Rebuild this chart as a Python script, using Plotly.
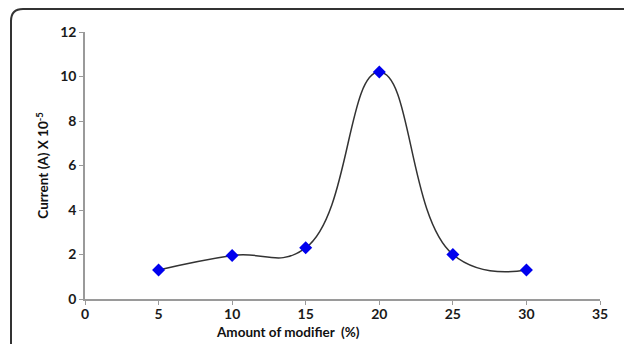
import plotly.graph_objects as go

modifier_pct = [5, 10, 15, 20, 25, 30]
current = [1.3, 1.95, 2.3, 10.2, 2.0, 1.3]
x_ticks = [0, 5, 10, 15, 20, 25, 30, 35]
y_ticks = [0, 2, 4, 6, 8, 10, 12]

W, H = 624, 344
L, R, T, B = 85, 24, 32, 45
pw, ph = W - L - R, H - T - B

def px(x):
    return (x - L) / pw

def py(y):
    return (H - B - y) / ph

fig = go.Figure()
fig.add_trace(go.Scatter(
    x=modifier_pct, y=current, mode="lines+markers",
    line=dict(color="#333333", width=1.5, shape="spline", smoothing=1.3),
    marker=dict(symbol="diamond", size=10, color="#0000ee"),
    showlegend=False,
))

path = (f"M {px(11)},{py(360)} L {px(11)},{py(21)} "
        f"Q {px(11)},{py(9)} {px(23)},{py(9)} L {px(640)},{py(9)}")
fig.add_shape(type="path", path=path, xref="paper", yref="paper",
              line=dict(color="#333333", width=2))

tfont = dict(family="Lato, Open Sans, sans-serif", size=14, color="#1a1a1a", weight=700)
lfont = dict(family="Lato, Open Sans, sans-serif", size=13.5, color="#111111", weight=700)
axcommon = dict(showgrid=False, zeroline=False, showline=True, linecolor="#9a9a9a",
                linewidth=1.5, ticks="outside", tickcolor="#9a9a9a", ticklen=4,
                tickfont=tfont, automargin=False)
fig.update_xaxes(range=[0, 35], tickvals=x_ticks, ticklabelstandoff=-3, **axcommon)
fig.update_yaxes(range=[0, 12], tickvals=y_ticks, **axcommon,
                 title=dict(text="Current (A) X 10<sup>-5</sup>", font=lfont, standoff=8))
fig.add_annotation(text="Amount of modifier  (%)", xref="paper", yref="paper",
                   x=px(288), y=py(332), xanchor="center", yanchor="middle",
                   showarrow=False, font=lfont)
fig.update_layout(width=W, height=H, margin=dict(l=L, r=R, t=T, b=B),
                  plot_bgcolor="white", paper_bgcolor="white")
fig.write_html("out.html")
